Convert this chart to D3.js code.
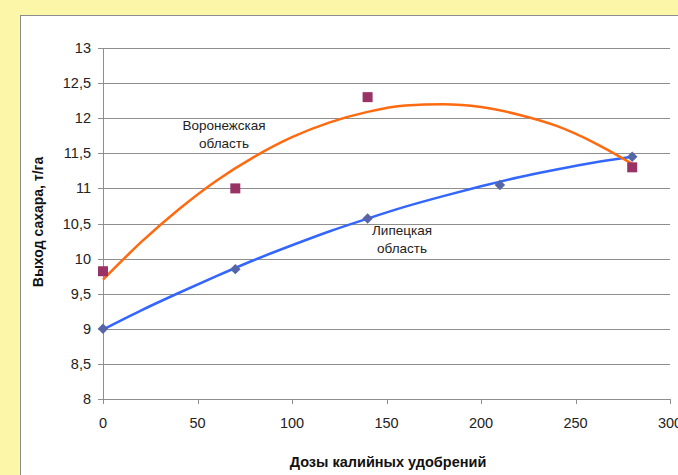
<!DOCTYPE html>
<html><head><meta charset="utf-8">
<script src="https://cdn.jsdelivr.net/npm/d3@7"></script>
<style>
html,body{margin:0;padding:0;background:#fbf6a8;}
svg{display:block;font-family:"Liberation Sans",Arial,sans-serif;}
</style></head>
<body>
<svg id="c" width="678" height="475"></svg>
<script>
// Data
const xTicks = [0, 50, 100, 150, 200, 250, 300];
const yTicks = [8, 8.5, 9, 9.5, 10, 10.5, 11, 11.5, 12, 12.5, 13];
const voronezhX = [0, 70, 140, 280];
const voronezhY = [9.82, 11.0, 12.3, 11.3];
const lipetskX = [0, 70, 140, 210, 280];
const lipetskY = [9.0, 9.85, 10.57, 11.05, 11.45];
const trendX = [0, 20, 40, 60, 80, 100, 120, 140, 160, 180, 200, 220, 240, 260, 280];
const voronezhTrend = [9.70, 10.23, 10.70, 11.11, 11.45, 11.73, 11.94, 12.09, 12.18, 12.20, 12.16, 12.05, 11.89, 11.65, 11.35];
const lipetskTrend = [8.99, 9.26, 9.51, 9.75, 9.98, 10.19, 10.39, 10.57, 10.74, 10.89, 11.03, 11.16, 11.27, 11.37, 11.45];
const labels = {voronezh: ["Воронежская", "область"], lipetsk: ["Липецкая", "область"]};
const xTitle = "Дозы калийных удобрений";
const yTitle = "Выход сахара, т/га";

const svg = d3.select("#c");
// frame
svg.append("rect").attr("x", 20.5).attr("y", 15.5).attr("width", 700).attr("height", 500)
  .attr("fill", "#fff").attr("stroke", "#8c8c8c").attr("stroke-width", 1);

const x = d3.scaleLinear().domain([0, 300]).range([103, 670]);
const y = d3.scaleLinear().domain([8, 13]).range([399, 48]);
const fmt = d => String(d).replace(".", ",");

// grid
svg.append("g").selectAll("line").data(yTicks).join("line")
  .attr("x1", x(0) - 5).attr("x2", x(300))
  .attr("y1", d => Math.round(y(d)) + 0.5).attr("y2", d => Math.round(y(d)) + 0.5)
  .attr("stroke", "#8e8e8e").attr("stroke-width", 1);

// y axis line
svg.append("line").attr("x1", x(0) + 0.5).attr("x2", x(0) + 0.5)
  .attr("y1", y(13)).attr("y2", y(8)).attr("stroke", "#8e8e8e");
// x ticks
svg.append("g").selectAll("line").data(xTicks).join("line")
  .attr("x1", d => Math.round(x(d)) + 0.5).attr("x2", d => Math.round(x(d)) + 0.5)
  .attr("y1", y(8)).attr("y2", y(8) + 5).attr("stroke", "#8e8e8e");

// y tick labels
svg.append("g").selectAll("text").data(yTicks).join("text")
  .attr("x", 91).attr("y", d => y(d) + 5).attr("text-anchor", "end")
  .attr("font-size", 14.5).attr("fill", "#222").text(fmt);
// x tick labels
svg.append("g").selectAll("text").data(xTicks).join("text")
  .attr("x", d => x(d)).attr("y", 428).attr("text-anchor", "middle")
  .attr("font-size", 14.5).attr("fill", "#222").text(fmt);

// titles
svg.append("text").attr("x", 388).attr("y", 467).attr("text-anchor", "middle")
  .attr("font-size", 14.5).attr("font-weight", "bold").attr("fill", "#111").text(xTitle);
svg.append("text").attr("transform", "translate(43,222) rotate(-90)").attr("text-anchor", "middle")
  .attr("font-size", 14).attr("font-weight", "bold").attr("fill", "#111").text(yTitle);

// trend lines
const line = d3.line().curve(d3.curveMonotoneX).x(d => x(d[0])).y(d => y(d[1]));
svg.append("path").datum(trendX.map((d, i) => [d, lipetskTrend[i]]))
  .attr("d", line).attr("fill", "none").attr("stroke", "#3366ff").attr("stroke-width", 2.5);
svg.append("path").datum(trendX.map((d, i) => [d, voronezhTrend[i]]))
  .attr("d", line).attr("fill", "none").attr("stroke", "#ff6a10").attr("stroke-width", 2.5);

// markers
svg.append("g").selectAll("path").data(lipetskX.map((d, i) => [d, lipetskY[i]])).join("path")
  .attr("d", d3.symbol().type(d3.symbolDiamond2).size(70)())
  .attr("transform", d => `translate(${x(d[0])},${y(d[1])})`)
  .attr("fill", "#5664a8");
svg.append("g").selectAll("rect").data(voronezhX.map((d, i) => [d, voronezhY[i]])).join("rect")
  .attr("x", d => x(d[0]) - 5).attr("y", d => y(d[1]) - 5).attr("width", 10).attr("height", 10)
  .attr("fill", "#993366");

// annotations
function ann(lines, cx, by) {
  svg.append("g").selectAll("text").data(lines).join("text")
    .attr("x", cx).attr("y", (d, i) => by + i * 18).attr("text-anchor", "middle")
    .attr("font-size", 13.5).attr("fill", "#222").text(d => d);
}
ann(labels.voronezh, 224, 130);
ann(labels.lipetsk, 402, 235);
</script>
</body></html>
